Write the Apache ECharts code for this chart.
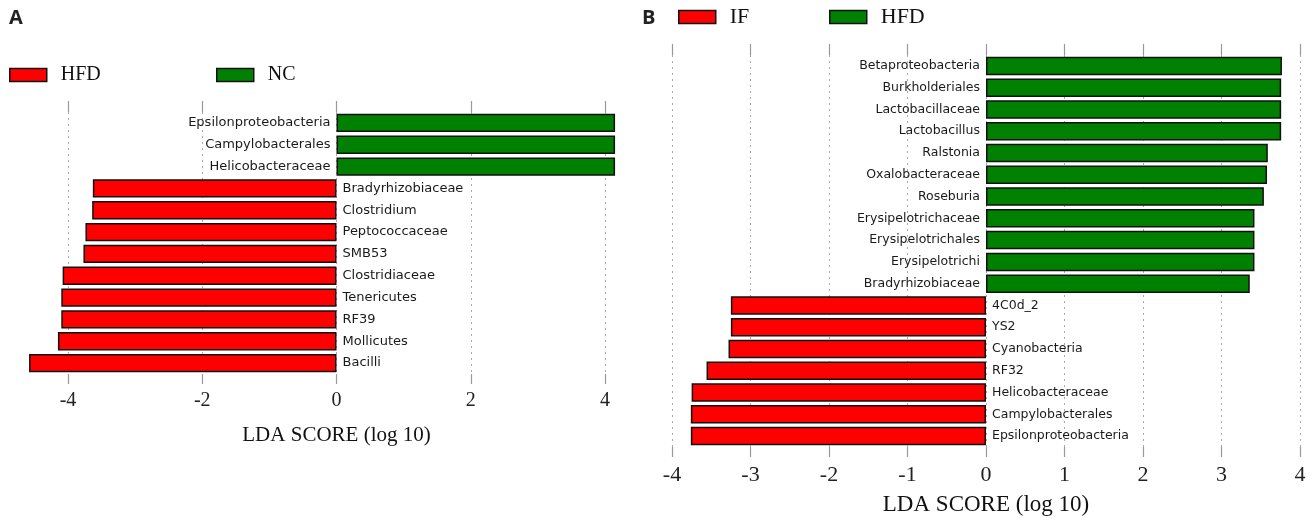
<!DOCTYPE html>
<html>
<head>
<meta charset="utf-8">
<script src="https://cdn.jsdelivr.net/npm/echarts@6/dist/echarts.min.js"></script>
<style>
  html, body { margin: 0; padding: 0; background: #fff; }
  #chart { width: 1313px; height: 521px; }
</style>
</head>
<body>
<div id="chart"></div>
<script>
// Panel A: LEfSe LDA scores, HFD vs NC (top to bottom)
const catsA = ['Epsilonproteobacteria', 'Campylobacterales', 'Helicobacteraceae',
  'Bradyrhizobiaceae', 'Clostridium', 'Peptococcaceae', 'SMB53', 'Clostridiaceae',
  'Tenericutes', 'RF39', 'Mollicutes', 'Bacilli'];
const ncA  = [4.15, 4.15, 4.15, '-', '-', '-', '-', '-', '-', '-', '-', '-'];
const hfdA = ['-', '-', '-', -3.63, -3.64, -3.74, -3.77, -4.08, -4.10, -4.10, -4.15, -4.58];

// Panel B: LEfSe LDA scores, IF vs HFD (top to bottom)
const catsB = ['Betaproteobacteria', 'Burkholderiales', 'Lactobacillaceae', 'Lactobacillus',
  'Ralstonia', 'Oxalobacteraceae', 'Roseburia', 'Erysipelotrichaceae', 'Erysipelotrichales',
  'Erysipelotrichi', 'Bradyrhizobiaceae', '4C0d_2', 'YS2', 'Cyanobacteria', 'RF32',
  'Helicobacteraceae', 'Campylobacterales', 'Epsilonproteobacteria'];
const hfdB = [3.77, 3.76, 3.76, 3.76, 3.59, 3.58, 3.54, 3.42, 3.42, 3.42, 3.36,
  '-', '-', '-', '-', '-', '-', '-'];
const ifB  = ['-', '-', '-', '-', '-', '-', '-', '-', '-', '-', '-',
  -3.25, -3.25, -3.28, -3.56, -3.75, -3.76, -3.76];

const ticksA = { min: -4, max: 4, interval: 2 };
const ticksB = { min: -4, max: 4, interval: 1 };

const RED = '#ff0000', GREEN = '#008000';
const serif = 'Liberation Serif';
const sans = 'DejaVu Sans';

function bottomAxis(grid, t, labelSize, nameSize, nameGap) {
  return {
    type: 'value', gridIndex: grid, position: 'bottom',
    min: t.min, max: t.max, interval: t.interval,
    axisLine: { show: false },
    axisTick: { show: true, length: 10, lineStyle: { color: '#999', width: 1.2 } },
    splitLine: { show: true, lineStyle: { color: '#aaa', type: [2, 4], width: 1 } },
    axisLabel: { fontFamily: serif, fontSize: labelSize, color: '#222', margin: 17 },
    name: 'LDA SCORE (log 10)', nameLocation: 'middle', nameGap: nameGap,
    nameTextStyle: { fontFamily: serif, fontSize: nameSize, color: '#111' }
  };
}
function topAxis(grid, t) {
  return {
    type: 'value', gridIndex: grid, position: 'top',
    min: t.min, max: t.max, interval: t.interval,
    axisLine: { show: false },
    axisTick: { show: true, length: 11, lineStyle: { color: '#999', width: 1.2 } },
    splitLine: { show: false },
    axisLabel: { show: false }
  };
}
function catAxis(grid, cats) {
  return {
    type: 'category', gridIndex: grid, data: cats, inverse: true,
    axisLine: { show: false }, axisTick: { show: false }, axisLabel: { show: false },
    splitLine: { show: false }
  };
}
function barSeries(name, xi, yi, data, color, side, fontSize, gap) {
  return {
    name: name, type: 'bar', xAxisIndex: xi, yAxisIndex: yi, data: data,
    barGap: '-100%', barCategoryGap: gap, clip: false,
    itemStyle: { color: color, borderColor: '#111', borderWidth: 1.5 },
    label: {
      show: true, position: side, distance: 6, formatter: '{b}',
      fontFamily: sans, fontSize: fontSize, color: '#1a1a1a'
    },
    emphasis: { disabled: true }
  };
}
function legendItem(name, left, top, size) {
  return {
    data: [name], left: left, top: top, padding: 0,
    icon: 'rect', itemWidth: 37, itemHeight: 13,
    itemStyle: { borderColor: '#111', borderWidth: 1.5 },
    formatter: n => n.slice(2),
    textStyle: { fontFamily: serif, fontSize: size, color: '#111', padding: [0, 0, 0, 9] },
    selectedMode: false
  };
}

const chart = echarts.init(document.getElementById('chart'), null, { renderer: 'canvas' });
chart.setOption({
  animation: false,
  backgroundColor: '#fff',
  grid: [
    { left: 68, width: 537, top: 112, height: 262 },
    { left: 672, width: 628, top: 55, height: 398 }
  ],
  xAxis: [
    bottomAxis(0, ticksA, 20, 21, 51),
    topAxis(0, ticksA),
    bottomAxis(1, ticksB, 22, 23, 46),
    topAxis(1, ticksB)
  ],
  yAxis: [catAxis(0, catsA), catAxis(1, catsB)],
  legend: [
    legendItem('A-HFD', 9, 65, 20),
    legendItem('A-NC', 216, 65, 20),
    legendItem('B-IF', 678, 6, 22),
    legendItem('B-HFD', 829, 6, 22)
  ],
  series: [
    barSeries('A-HFD', 0, 0, hfdA, RED, 'right', 13, '16%'),
    barSeries('A-NC', 0, 0, ncA, GREEN, 'left', 13, '16%'),
    barSeries('B-IF', 2, 1, ifB, RED, 'right', 12.5, '15%'),
    barSeries('B-HFD', 2, 1, hfdB, GREEN, 'left', 12.5, '15%')
  ],
  graphic: [
    { type: 'text', left: 9, top: 8, style: { text: 'A', font: 'bold 20px "Open Sans"', fill: '#222' } },
    { type: 'text', left: 642, top: 8, style: { text: 'B', font: 'bold 20px "Open Sans"', fill: '#222' } }
  ]
});
</script>
</body>
</html>
